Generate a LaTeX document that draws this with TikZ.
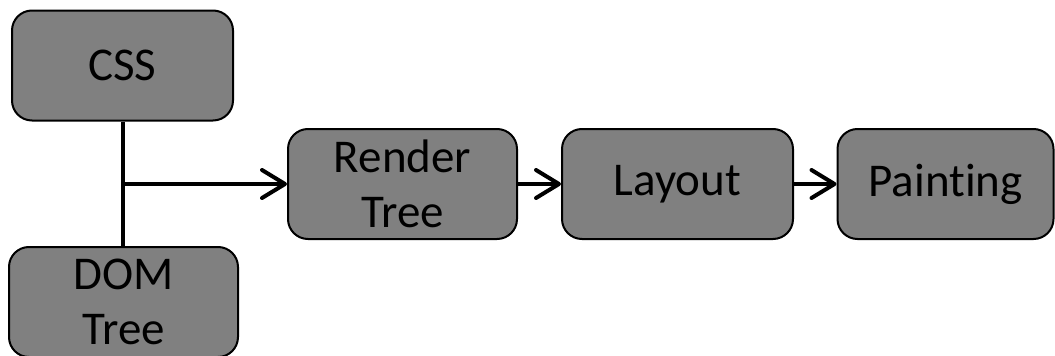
\documentclass[tikz,border=0pt]{standalone}
\usepackage{fontspec}
\setmainfont[Ligatures=NoCommon]{Carlito}
\usetikzlibrary{arrows.meta}
\begin{document}
\begin{tikzpicture}[x=1pt,y=-1pt,
  stage/.style={draw=black, line width=2pt, fill=stagegray, rounded corners=20pt,
    minimum height=110pt, align=center, inner sep=0pt,
    font=\fontsize{47}{55}\selectfont},
  link/.style={line width=4pt},
  flow/.style={link, -{Straight Barb[length=23pt,width=28pt,line width=4pt,round]}}]
\definecolor{stagegray}{HTML}{808080}
\useasboundingbox (0,0) rectangle (1055,356);
% input boxes on the left
\node[stage, minimum width=221pt] (css) at (122.5,65.5) {CSS};
\node[stage, minimum width=229pt] (dom) at (123.5,302) {DOM\\Tree};
% pipeline stages
\node[stage, minimum width=229pt] (render) at (402.5,184) {Render\\Tree};
\node[stage, minimum width=231pt] (layout) at (677.5,184) {Layout};
\node[stage, minimum width=216pt] (paint) at (945.5,184) {Painting};
% CSS and DOM join into the render tree
\coordinate (join) at (css.south |- render.west);
\draw[link] (css.south) -- (css.south |- dom.north);
\draw[flow] (join) -- (render.west);
\draw[flow] (render.east) -- (layout.west);
\draw[flow] (layout.east) -- (paint.west);
\end{tikzpicture}
\end{document}
